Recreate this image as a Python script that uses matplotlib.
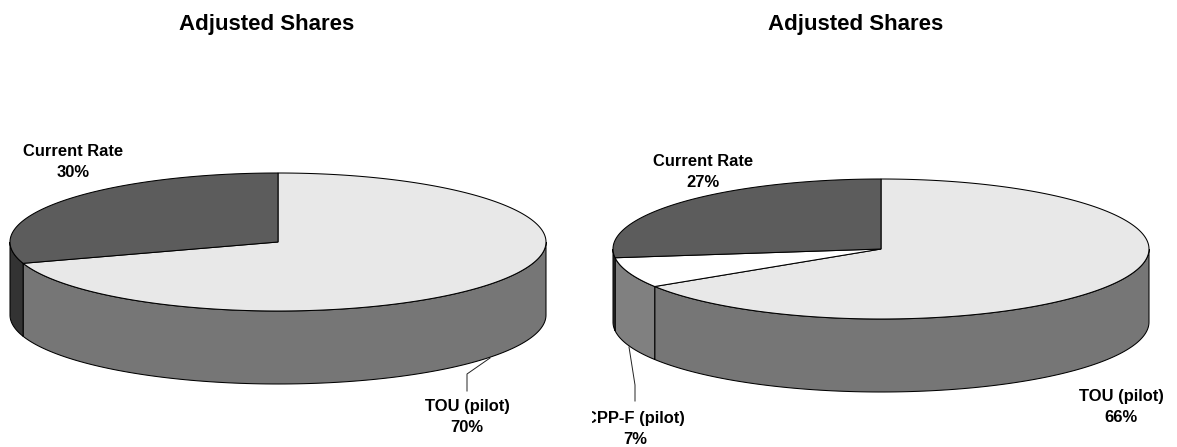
import numpy as np
import matplotlib
matplotlib.use("Agg")
import matplotlib.pyplot as plt
from matplotlib.patches import Polygon, Rectangle

plt.rcParams['font.family'] = ['Liberation Sans', 'DejaVu Sans']

left_names = ['TOU (pilot)', 'Current Rate']
left_shares = [70, 30]
right_names = ['TOU (pilot)', 'CPP-F (pilot)', 'Current Rate']
right_shares = [66, 7, 27]
chart_title = 'Adjusted Shares'

TOP = {'TOU (pilot)': '#e8e8e8', 'CPP-F (pilot)': '#ffffff', 'Current Rate': '#5c5c5c'}
SIDE = {'TOU (pilot)': '#767676', 'CPP-F (pilot)': '#808080', 'Current Rate': '#333333'}


def draw_pie(ax, names, shares, cx, cy, rx, ry, depth):
    # shares go clockwise from 12 o'clock, the plot is squashed to look 3d
    edges = np.cumsum([0] + list(shares)) / sum(shares) * 2 * np.pi
    for i, name in enumerate(names):
        a0, a1 = edges[i], edges[i + 1]
        # side wall only shows on the front half
        s0, s1 = max(a0, np.pi / 2), min(a1, 3 * np.pi / 2)
        if s1 > s0:
            t = np.linspace(s0, s1, 120)
            x = cx + rx * np.sin(t)
            y = cy - ry * np.cos(t)
            pts = np.vstack([np.c_[x, y], np.c_[x, y + depth][::-1]])
            ax.add_patch(Polygon(pts, closed=True, fc=SIDE[name], ec='black', lw=0.75, zorder=2))
    for i, name in enumerate(names):
        t = np.linspace(edges[i], edges[i + 1], 240)
        x = cx + rx * np.sin(t)
        y = cy - ry * np.cos(t)
        pts = np.vstack([[cx, cy], np.c_[x, y]])
        ax.add_patch(Polygon(pts, closed=True, fc=TOP[name], ec='black', lw=0.75, zorder=3))


fig = plt.figure(figsize=(11.77, 4.47), dpi=100)
ax = fig.add_axes([0, 0, 1, 1])
ax.set_xlim(0, 1177)
ax.set_ylim(447, 0)
ax.axis('off')

draw_pie(ax, left_names, left_shares, 278, 242, 268, 69, 73)
draw_pie(ax, right_names, right_shares, 881, 249, 268, 70, 73)

# leader lines
ax.plot([490, 467, 467], [358, 374, 391], color='#222222', lw=0.7, zorder=1)
ax.plot([629, 635, 635], [347, 385, 401], color='#222222', lw=0.7, zorder=1)

# y is the baseline of each text
ts = dict(ha='center', va='baseline', fontweight='bold', color='black', zorder=5)
ax.text(267, 30, chart_title, fontsize=16, **ts)
ax.text(856, 30, chart_title, fontsize=16, **ts)

ax.text(73, 156, 'Current Rate', fontsize=11.85, **ts)
ax.text(73, 177, '%d%%' % left_shares[1], fontsize=11.85, **ts)
ax.text(467, 411.5, 'TOU (pilot)', fontsize=11.85, **ts)
ax.text(467, 432.5, '%d%%' % left_shares[0], fontsize=11.85, **ts)

ax.text(703, 166, 'Current Rate', fontsize=11.85, **ts)
ax.text(703, 187, '%d%%' % right_shares[2], fontsize=11.85, **ts)
ax.text(1121, 400.5, 'TOU (pilot)', fontsize=11.85, **ts)
ax.text(1121, 421.5, '%d%%' % right_shares[0], fontsize=11.85, **ts)

# the C of this label is cut off in the original
cpp = ax.text(635, 422.5, 'CPP-F (pilot)', fontsize=11.85, **ts)
cpp.set_clip_path(Rectangle((592, 400), 120, 40, transform=ax.transData))
cpp.set_clip_on(True)
ax.text(635, 443.5, '%d%%' % right_shares[1], fontsize=11.85, **ts)

fig.savefig('out.png', dpi=100)
